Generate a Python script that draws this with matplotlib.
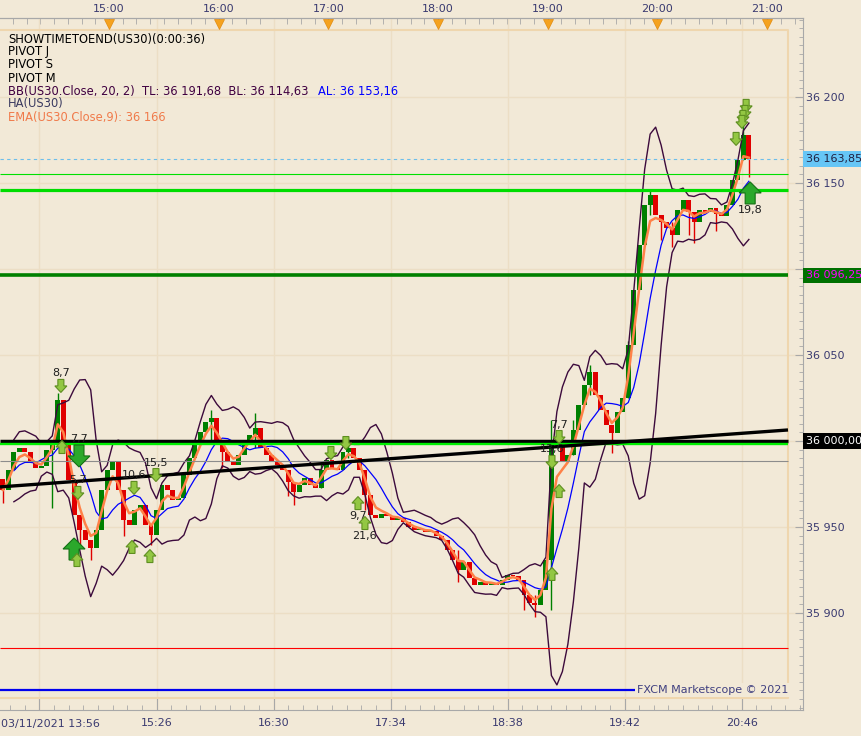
import numpy as np
import pandas as pd
import matplotlib
matplotlib.use("Agg")
import matplotlib.pyplot as plt
import matplotlib.transforms as mtransforms
from matplotlib.patches import Polygon
from matplotlib.ticker import FixedLocator, MultipleLocator

# US30, 03/11/2021, 3-minute Heikin-Ashi bars (minutes after midnight)
bar_start = 842
bar_step = 3
first_open = 35978.0
closes = [
    35971.5, 35983.1, 35993.6, 35995.9, 35993.6, 35987.8, 35984.3, 35985.5, 35994.8, 36000.6,
    36023.8, 36000.6, 35977.3, 35957.0, 35948.3, 35942.4, 35937.8, 35948.3, 35971.5, 35983.1,
    35987.8, 35971.5, 35954.1, 35951.2, 35959.9, 35962.8, 35951.2, 35945.3, 35959.9, 35974.4,
    35971.5, 35965.7, 35966.9, 35980.2, 35990.1, 35997.7, 36005.2, 36011.0, 36013.4, 36000.6,
    35993.6, 35987.8, 35986.0, 35991.9, 36000.6, 36003.5, 36007.6, 35995.9, 35991.9, 35987.8,
    35986.0, 35983.1, 35976.2, 35970.3, 35974.4, 35978.5, 35974.4, 35972.7, 35983.1, 35989.0,
    35984.3, 35983.1, 35993.6, 35995.9, 35990.1, 35983.1, 35968.6, 35957.0, 35955.2, 35957.6,
    35956.4, 35954.1, 35955.2, 35952.9, 35950.0, 35948.3, 35948.3, 35947.1, 35947.7, 35944.8,
    35942.4, 35936.6, 35930.8, 35925.0, 35929.6, 35920.3, 35916.3, 35918.0, 35916.3, 35917.4,
    35916.3, 35919.2, 35922.1, 35921.5, 35919.2, 35910.5, 35905.8, 35904.6, 35913.4, 35930.8,
    36000.6, 35997.7, 35987.8, 35991.9, 36006.4, 36020.9, 36032.6, 36040.1, 36026.7, 36018.0,
    36009.3, 36004.6, 36016.9, 36025.0, 36055.8, 36087.8, 36114.0, 36137.2, 36143.0, 36131.4,
    36127.3, 36123.8, 36119.8, 36134.3, 36140.1, 36133.1, 36127.3, 36134.3, 36133.1, 36135.5,
    36132.0, 36130.8, 36137.2, 36151.7, 36163.4, 36177.9, 36163.85,
]
# visible wicks (bar index, low, high)
wick_idx = [0, 9, 10, 14, 16, 22, 27, 38, 40, 46, 52, 53, 58, 63, 66, 83, 95, 97, 100,
            104, 107, 111, 114, 118, 120, 122, 125, 126, 130, 135, 136]
wick_lo = [35964.0, 35961.0, 36000.6, 35938.4, 35930.8, 35945.0, 35939.5, 36000.6, 35984.0,
           35995.9, 35968.0, 35962.8, 35972.7, 35990.1, 35960.0, 35918.0, 35902.0, 35897.7,
           35901.7, 35991.9, 36026.7, 35993.0, 36025.0, 36131.4, 36117.0, 36112.8, 36120.0,
           36115.0, 36122.0, 36163.4, 36153.5]
wick_hi = [35978.0, 36000.6, 36027.9, 35957.0, 35942.4, 35971.5, 35951.2, 36018.0, 36000.6,
           36016.3, 35983.1, 35976.2, 35988.0, 36001.0, 35983.1, 35936.6, 35919.2, 35910.5,
           36012.2, 36012.0, 36044.2, 36009.3, 36058.0, 36146.0, 36131.4, 36127.3, 36140.1,
           36133.1, 36135.5, 36185.0, 36176.7]

# horizontal levels
level_prices = [36155.1, 36145.9, 36096.25, 36000.0, 35998.3, 35988.4, 35879.5, 35855.2]
level_colors = ['#00E000', '#00DD00', '#008000', '#000000', '#00EE00', '#8C8C8C', '#FF0000', '#0000EE']
level_widths = [0.8, 2.3, 2.6, 2.5, 1.7, 0.8, 0.8, 1.6]
last_price = 36163.85

# trend line
trend_t = [840.4, 1271.4]
trend_p = [35973.3, 36006.4]

# signal arrows
sig_t = [873.7, 874.3, 883.6, 883.0, 880.9, 882.5, 913.7, 925.7, 912.6, 922.4,
         1021.4, 1029.6, 1036.2, 1040.0, 1146.2, 1142.3, 1146.2, 1142.3,
         1248.5, 1247.9, 1246.8, 1246.2, 1243.0, 1250.7]
sig_p = [36032.0, 35996.5, 35991.3, 35969.8, 35937.2, 35930.8, 35972.7, 35980.2, 35938.4, 35933.1,
         35993.0, 35998.8, 35963.9, 35952.3, 36002.3, 35987.8, 35970.9, 35922.7,
         36194.8, 36191.3, 36188.4, 36185.5, 36175.6, 36144.2]
sig_up = [False, True, False, False, True, True, False, False, True, True,
          False, False, True, True, False, False, True, True,
          False, False, False, False, False, True]
sig_big = [False, False, True, False, True, False, False, False, False, False,
           False, False, False, False, False, False, False, False,
           False, False, False, False, False, True]
sig_label = ['8,7', '', '7,7', '5,7', '', '', '10,6', '15,5', '', '',
             '', '', '9,7', '21,6', '7,7', '13,6', '', '',
             '', '', '', '', '', '19,8']

top_ticks = [900, 960, 1020, 1080, 1140, 1200, 1260]
top_labels = ['15:00', '16:00', '17:00', '18:00', '19:00', '20:00', '21:00']
bottom_ticks = [862, 926, 990, 1054, 1118, 1182, 1246]
bottom_labels = ['', '15:26', '16:30', '17:34', '18:38', '19:42', '20:46']
price_ticks = [35900, 35950, 36000, 36050, 36100, 36150, 36200]
price_labels = ['35 900', '35 950', '', '36 050', '', '36 150', '36 200']

bg = '#F2E9D7'
axis_c = '#A8A8A8'
label_c = '#3A3A70'
plt.rcParams['font.family'] = ['DejaVu Sans']

fig = plt.figure(figsize=(8.61, 7.36), dpi=100, facecolor=bg)
ax = fig.add_axes([0, 26 / 736, 803 / 861, 692 / 736], facecolor=bg)
ax.set_xlim(840.4, 1279.6)
ax.set_ylim(35843.6, 36245.9)
t_frame = 1271.4

for s in ['top', 'bottom', 'right']:
    ax.spines[s].set_color(axis_c)
ax.spines['left'].set_visible(False)

# bottom axis
ax.xaxis.set_major_locator(FixedLocator(bottom_ticks))
ax.xaxis.set_minor_locator(FixedLocator(np.arange(846, 1280, 8)))
ax.set_xticklabels(bottom_labels)
ax.tick_params(axis='x', which='major', direction='in', length=8.5, color=axis_c,
               labelcolor=label_c, labelsize=8, pad=6)
ax.tick_params(axis='x', which='minor', direction='in', length=3.6, color=axis_c)
fig.text(1 / 861, 1 - 724 / 736, '03/11/2021 13:56', fontsize=8, color=label_c, va='center', ha='left')

# right price axis
ax.yaxis.tick_right()
ax.yaxis.set_major_locator(FixedLocator(price_ticks))
ax.yaxis.set_minor_locator(MultipleLocator(5))
ax.set_yticklabels(price_labels)
ax.tick_params(axis='y', which='major', direction='in', length=6, color=axis_c,
               labelcolor=label_c, labelsize=8, pad=2)
ax.tick_params(axis='y', which='minor', direction='in', length=3, color=axis_c)

# top time axis
sec = ax.secondary_xaxis('top')
sec.set_xticks(top_ticks, labels=top_labels)
sec.xaxis.set_minor_locator(FixedLocator(np.arange(840, 1280, 7.5)))
sec.tick_params(which='major', direction='in', length=5, color=axis_c, labelcolor=label_c,
                labelsize=8, pad=3)
sec.tick_params(which='minor', direction='in', length=4, color=axis_c)
sec.spines['top'].set_color(axis_c)
tri_tr = mtransforms.blended_transform_factory(ax.transData, ax.transAxes)
ax.plot(top_ticks, [(710 - 23.5) / 692] * len(top_ticks), 'v', ms=7, color='#F5A21E',
        mec='#E08A10', mew=0.5, transform=tri_tr, clip_on=False, zorder=6)

ax.grid(which='major', color='#ECDEC5', lw=1)
ax.set_axisbelow(True)

# pale frame of the chart area
fx, fy0, fy1 = 788 / 803, 12 / 692, 680 / 692
ax.plot([0, fx, fx, 0], [fy1, fy1, fy0, fy0], color='#EFD6AE', lw=1.5,
        transform=ax.transAxes, zorder=1)

# candles, body from the previous close
times = bar_start + bar_step * np.arange(len(closes))
close_arr = np.array(closes)
open_arr = np.concatenate([[first_open], close_arr[:-1]])
up = close_arr >= open_arr
cols = np.where(up, '#008000', '#E00000')
body_lo = np.minimum(open_arr, close_arr)
body_h = np.maximum(np.abs(close_arr - open_arr), 0.6)
ax.bar(times, body_h, bottom=body_lo, width=2.7, color=cols, linewidth=0, zorder=2)
ax.vlines(times[wick_idx], wick_lo, wick_hi, colors=cols[wick_idx], lw=1, zorder=2)

# indicators
s = pd.Series(closes)
mid = s.rolling(7, min_periods=3).mean()
sd = s.rolling(7, min_periods=3).std(ddof=0)
ema = s.ewm(span=3, adjust=False).mean()
ax.plot(times, mid + 2 * sd, color='#3C0A3C', lw=1, zorder=3)
ax.plot(times, mid - 2 * sd, color='#3C0A3C', lw=1, zorder=3)
ax.plot(times, mid, color='#0000FF', lw=0.9, zorder=3)
ax.plot(times, ema, color='#FF8148', lw=1.8, zorder=3.5)

# levels
for lp, lc, lw in zip(level_prices, level_colors, level_widths):
    ax.hlines(lp, 840.4, t_frame, colors=lc, lw=lw, zorder=4)
ax.hlines(last_price, 840.4, t_frame, colors='#6CBEEA', lw=0.8, linestyles=(0, (3, 3)), zorder=4)
ax.plot(trend_t, trend_p, color='black', lw=2.4, zorder=4.5, solid_capstyle='butt')

# signal arrows
def draw_arrow(t, p, is_up, big):
    if big:
        hw, hh, sw, sl = 11, 11, 5, 11
        fc, ec = '#2BA82B', '#147014'
    else:
        hw, hh, sw, sl = 6, 6.5, 3, 6.5
        fc, ec = '#93C743', '#5E8E20'
    top = (hh + sl) / 2
    verts = [(-sw, top), (sw, top), (sw, top - sl), (hw, top - sl), (0, -top),
             (-hw, top - sl), (-sw, top - sl)]
    if is_up:
        verts = [(x, -y) for x, y in verts]
    tr = mtransforms.Affine2D() + mtransforms.ScaledTranslation(t, p, ax.transData)
    ax.add_patch(Polygon(verts, closed=True, fc=fc, ec=ec, lw=0.8, transform=tr, zorder=5))
    return top

for t, p, u, b, lab in zip(sig_t, sig_p, sig_up, sig_big, sig_label):
    half = draw_arrow(t, p, u, b)
    if lab:
        off = (half + 6) * 0.72
        ax.annotate(lab, (t, p), xytext=(0, -off if u else off), textcoords='offset points',
                    ha='center', va='center', fontsize=8, color='#1E1E1E', zorder=4.9)

# price boxes on the right axis
box_tr = mtransforms.blended_transform_factory(ax.transAxes, ax.transData)
ax.text(1.004, last_price, '36 163,85', transform=box_tr, fontsize=8, color='#202040', va='center',
        ha='left', bbox=dict(boxstyle='square,pad=0.25', fc='#66C6F6', ec='none'), zorder=7, clip_on=False)
ax.text(1.004, 36096.25, '36 096,25', transform=box_tr, fontsize=8, color='#FF00FF', va='center',
        ha='left', bbox=dict(boxstyle='square,pad=0.25', fc='#007000', ec='none'), zorder=7, clip_on=False)
ax.text(1.004, 36000.0, '36 000,00', transform=box_tr, fontsize=8, color='white', va='center',
        ha='left', bbox=dict(boxstyle='square,pad=0.25', fc='black', ec='none'), zorder=7, clip_on=False)

ax.text(fx, 35855.2, 'FXCM Marketscope \u00a9 2021', transform=box_tr, fontsize=8, color='#404080',
        ha='right', va='center', bbox=dict(boxstyle='square,pad=0.15', fc=bg, ec='none'), zorder=6)

# indicator legend, top left
legend_lines = [('SHOWTIMETOEND(US30)(0:00:36)', '#000000'), ('PIVOT J', '#000000'),
                ('PIVOT S', '#000000'), ('PIVOT M', '#000000'),
                ('BB(US30.Close, 20, 2)  TL: 36 191,68  BL: 36 114,63', '#400040'),
                ('HA(US30)', '#3A3A60'), ('EMA(US30.Close,9): 36 166', '#F07A4A')]
for k, (txt, c) in enumerate(legend_lines):
    tt = fig.text(8 / 861, 1 - (39 + 13 * k) / 736, txt, fontsize=8.3, color=c, va='center', ha='left')
    if k == 4:
        ax.annotate('AL: 36 153,16', xy=(1, 0.5), xycoords=tt, xytext=(7, 0), textcoords='offset points',
                    fontsize=8.3, color='#0000FF', va='center', ha='left')

fig.savefig('out.png', dpi=100, facecolor=bg)
